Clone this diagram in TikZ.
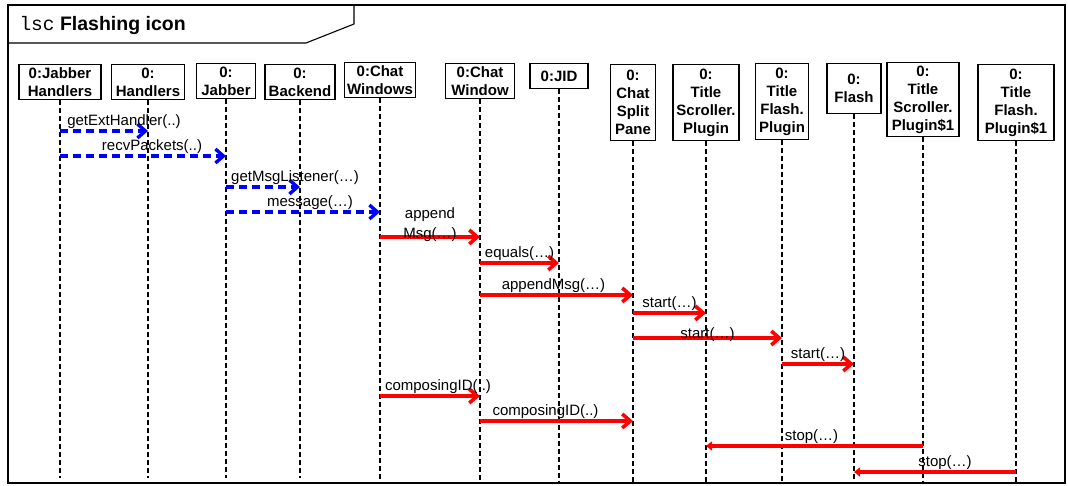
\documentclass[tikz,border=0pt]{standalone}
\usepackage{fontspec}
\setmainfont{Liberation Sans}
\setmonofont{Liberation Mono}
\usetikzlibrary{arrows.meta}

\begin{document}
\begin{tikzpicture}[x=1pt,y=-1pt,
  font=\fontsize{15}{18}\selectfont,
  obj/.style={draw,line width=1.2pt,anchor=north,align=center,inner xsep=3pt,inner ysep=3pt,font=\fontsize{15}{18}\selectfont\bfseries},
  life/.style={line width=2pt,dash pattern=on 5pt off 3pt},
  async/.style={blue,line width=3.4pt,dash pattern=on 8pt off 5pt,-{Straight Barb[length=8pt,width=14pt]}},
  call/.style={red,line width=3.6pt,-{Straight Barb[length=8pt,width=14pt]}},
  ret/.style={red,line width=3.6pt,-{Triangle[length=6pt,width=9pt]}},
  msg/.style={midway,above,inner sep=1pt,text=black}]
\useasboundingbox (0,0) rectangle (1068,485);
\draw[line width=1.6pt] (8,5) rectangle (1065,483);
\draw[line width=1.1pt] (8,43) -- (306,43) -- (354,24) -- (354,5);
\node[anchor=base west,font=\fontsize{19.5}{22}\selectfont] (ttl) at (16,30) {{\ttfamily lsc} \textbf{Flashing icon}};

\node[obj,minimum width=82pt] (jh) at (60,64) {0:Jabber\\Handlers};
\node[obj,minimum width=73pt] (hd) at (148,64) {0:\\Handlers};
\node[obj,minimum width=59pt] (jb) at (226,63) {0:\\Jabber};
\node[obj,minimum width=70pt] (be) at (300,64) {0:\\Backend};
\node[obj,minimum width=69pt] (cws) at (380,62) {0:Chat\\Windows};
\node[obj,minimum width=69pt] (cw) at (480,63) {0:Chat\\Window};
\node[obj,minimum width=58pt,minimum height=25pt] (jid) at (559,63) {0:JID};
\node[obj,minimum width=45pt,minimum height=76pt] (csp) at (633,64) {0:\\Chat\\Split\\Pane};
\node[obj,minimum width=66pt,minimum height=76pt] (tsp) at (706,64) {0:\\Title\\Scroller.\\Plugin};
\node[obj,minimum width=53pt,minimum height=76pt] (tfp) at (782,63) {0:\\Title\\Flash.\\Plugin};
\node[obj,minimum width=54pt,minimum height=50pt] (fl) at (854,63) {0:\\Flash};
\node[obj,minimum width=72pt] (tsp1) at (923,62) {0:\\Title\\Scroller.\\Plugin\$1};
\node[obj,minimum width=76pt,minimum height=76pt] (tfp1) at (1016,64) {0:\\Title\\Flash.\\Plugin\$1};

\foreach \o in {jh,hd,jb,be} \draw[life] (\o) -- (\o |- 0,478);
\foreach \o in {cws,cw,jid,csp,tsp,tfp,fl,tsp1,tfp1} \draw[life] (\o) -- (\o |- 0,482);

\draw[async] (jh |- 0,131) -- node[msg,xshift=20pt]{getExtHandler(..)} (hd |- 0,131);
\draw[async] (jh |- 0,156) -- node[msg,xshift=9pt]{recvPackets(..)} (jb |- 0,156);
\draw[async] (jb |- 0,187) -- node[msg,xshift=32pt]{getMsgListener(…)} (be |- 0,187);
\draw[async] (jb |- 0,212) -- node[msg,xshift=7pt]{message(…)} (cws |- 0,212);
\draw[call] (cws |- 0,237) -- node[msg,align=center,yshift=-7pt,font=\fontsize{15}{20}\selectfont]{append\\Msg(…)} (cw |- 0,237);
\draw[call] (cw |- 0,263) -- node[msg]{equals(…)} (jid |- 0,263);
\draw[call] (cw |- 0,295) -- node[msg,xshift=-3pt]{appendMsg(…)} (csp |- 0,295);
\draw[call] (csp |- 0,313) -- node[msg]{start(…)} (tsp |- 0,313);
\draw[call] (csp |- 0,338) -- node[msg,yshift=-6pt]{start(…)} (tfp |- 0,338);
\draw[call] (tfp |- 0,364) -- node[msg]{start(…)} (fl |- 0,364);
\draw[call] (cws |- 0,396) -- node[msg,xshift=8pt]{composingID(..)} (cw |- 0,396);
\draw[call] (cw |- 0,421) -- node[msg,xshift=-11pt]{composingID(..)} (csp |- 0,421);
\draw[ret] (tsp1 |- 0,446) -- node[msg,xshift=-3pt]{stop(…)} (tsp |- 0,446);
\draw[ret] (tfp1 |- 0,472) -- node[msg,xshift=10pt]{stop(…)} (fl |- 0,472);
\end{tikzpicture}
\end{document}
